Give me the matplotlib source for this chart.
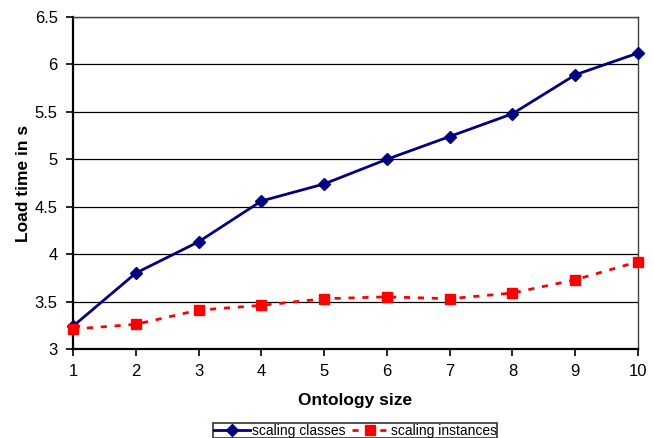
import matplotlib
matplotlib.use("Agg")
import matplotlib.pyplot as plt

plt.rcParams['font.family'] = ['Liberation Sans', 'DejaVu Sans']

sizes = [1, 2, 3, 4, 5, 6, 7, 8, 9, 10]
scaling_classes = [3.24, 3.80, 4.13, 4.56, 4.74, 5.00, 5.24, 5.48, 5.89, 6.12]
scaling_instances = [3.21, 3.26, 3.41, 3.46, 3.53, 3.55, 3.53, 3.59, 3.73, 3.92]
yticks = [3, 3.5, 4, 4.5, 5, 5.5, 6, 6.5]
ytick_labels = ['3', '3.5', '4', '4.5', '5', '5.5', '6', '6.5']

fig = plt.figure(figsize=(6.54, 4.38), dpi=100)
ax = fig.add_axes([73/654, 1-349/438, (638-73)/654, (349-17)/438])

ax.plot(sizes, scaling_classes, color='#000080', lw=2, marker='D', ms=6.5,
        label='scaling classes', zorder=3, clip_on=False)
ax.plot(sizes, scaling_instances, color='#FF0000', lw=2, ls=(0, (2.2, 2.8)), marker='s', ms=6.5,
        label='scaling instances', zorder=3, clip_on=False)

ax.set_xlim(1, 10)
ax.set_ylim(3, 6.5)
ax.set_xticks(sizes)
ax.set_xticklabels([str(s) for s in sizes], fontsize=12)
ax.set_yticks(yticks)
ax.set_yticklabels(ytick_labels, fontsize=12)
ax.yaxis.grid(True, color='black', lw=0.9)
ax.set_axisbelow(True)
ax.tick_params(direction='out', length=5, width=1.2, colors='black', pad=6)

for side in ['left', 'bottom']:
    ax.spines[side].set_linewidth(1.6)
    ax.spines[side].set_color('black')
for side in ['top', 'right']:
    ax.spines[side].set_linewidth(1.0)
    ax.spines[side].set_color('#404040')

ax.set_xlabel('Ontology size', fontsize=12.5, fontweight='bold', labelpad=10)
ax.set_ylabel('Load time in s', fontsize=12.5, fontweight='bold', labelpad=3)

leg = fig.legend(loc='upper left', bbox_to_anchor=(213/654, 1-423/438), ncol=2,
                 fontsize=10, frameon=True, fancybox=False, edgecolor='black',
                 handlelength=2.6, columnspacing=0.5, handletextpad=0.15,
                 borderpad=0.05, borderaxespad=0)
leg.get_frame().set_linewidth(1.2)

fig.savefig('out.png', dpi=100)
